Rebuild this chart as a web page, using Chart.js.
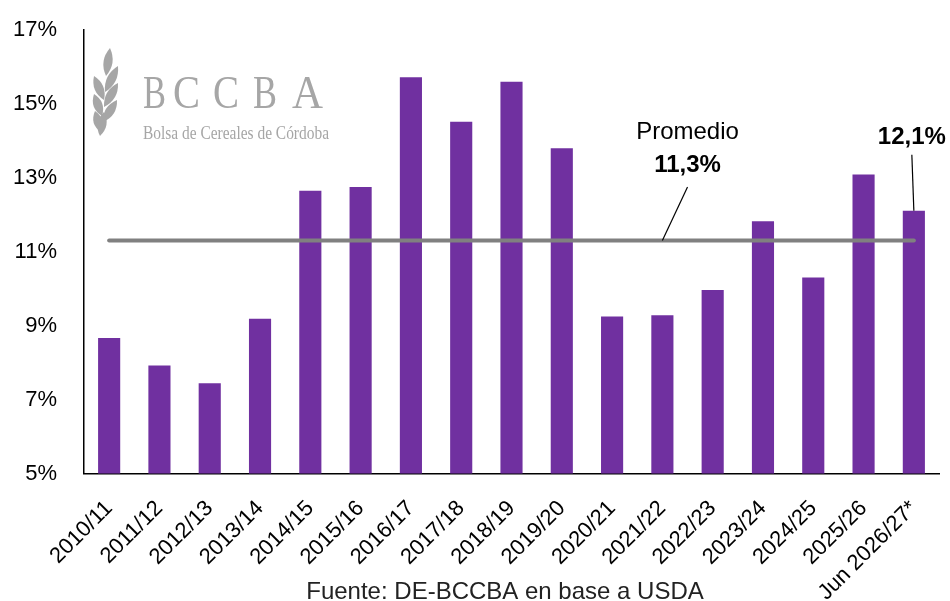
<!DOCTYPE html>
<html>
<head>
<meta charset="utf-8">
<script src="https://cdn.jsdelivr.net/npm/chart.js@4"></script>
<style>
    body { margin: 0; background: #fff; }
    #wrap { width: 950px; height: 601px; }
</style>
</head>
<body>
<div id="wrap"><canvas id="stockChart" width="950" height="601"></canvas></div>
<script>
// Campaigns and stock/use ratio (%)
const campaigns = ['2010/11', '2011/12', '2012/13', '2013/14', '2014/15', '2015/16', '2016/17', '2017/18',
    '2018/19', '2019/20', '2020/21', '2021/22', '2022/23', '2023/24', '2024/25', '2025/26', 'Jun 2026/27*'];
const ratios = [8.66, 7.92, 7.44, 9.18, 12.64, 12.74, 15.71, 14.51,
    15.59, 13.79, 9.24, 9.28, 9.96, 11.82, 10.30, 13.08, 12.1];
const promedio = 11.3;
const yTicks = [5, 7, 9, 11, 13, 15, 17];

const FONT = "'Liberation Sans', Arial, sans-serif";
const PURPLE = '#7030a0';
const GREY = '#808080';

function formatPct(value) {
    return value.toFixed(1).replace('.', ',') + '%';
}

// pointed leaf from base to tip
function leaf(ctx, bx, by, tx, ty, w) {
    const mx = (bx + tx) / 2, my = (by + ty) / 2;
    const len = Math.hypot(tx - bx, ty - by);
    const nx = -(ty - by) / len * w, ny = (tx - bx) / len * w;
    ctx.beginPath();
    ctx.moveTo(bx, by);
    ctx.quadraticCurveTo(mx + nx * 2, my + ny * 2, tx, ty);
    ctx.quadraticCurveTo(mx - nx * 2, my - ny * 2, bx, by);
    ctx.fill();
}

// BCCBA watermark, drawn behind the bars
const logoPlugin = {
    id: 'logo',
    beforeDatasetsDraw(chart) {
        const ctx = chart.ctx;
        ctx.save();
        ctx.fillStyle = '#a6a6a6';

        // wheat ear
        const leaves = [
            [106, 76, 110, 48],
            [105, 92, 118, 66],
            [104, 107, 118, 83],
            [103, 122, 117, 100],
            [104, 100, 94, 76],
            [102, 116, 94, 94],
            [101, 132, 95, 111],
            [104, 112, 100, 136]
        ];
        leaves.forEach(l => leaf(ctx, l[0], l[1], l[2], l[3], 4.5));

        ctx.textBaseline = 'alphabetic';
        ctx.textAlign = 'left';
        ctx.font = "47px 'Liberation Serif', 'DejaVu Serif', serif";
        const letters = ['B', 'C', 'C', 'B', 'A'];
        const letterX = [143, 173, 213, 253, 292];
        const letterW = [23, 27, 26, 24, 31];
        letters.forEach((ch, i) => ctx.fillText(ch, letterX[i], 108, letterW[i]));

        ctx.font = "18px 'Liberation Serif', 'DejaVu Serif', serif";
        ctx.fillText('Bolsa de Cereales de Córdoba', 143, 139, 186);
        ctx.restore();
    }
};

// Promedio / last value call-outs and source note
const notesPlugin = {
    id: 'notes',
    afterDatasetsDraw(chart) {
        const ctx = chart.ctx;
        const x = chart.scales.x;
        const y = chart.scales.y;
        ctx.save();
        ctx.fillStyle = '#000';
        ctx.strokeStyle = '#000';
        ctx.lineWidth = 1.2;
        ctx.textAlign = 'center';
        ctx.textBaseline = 'alphabetic';

        // promedio
        const avgY = y.getPixelForValue(promedio);
        const px = x.getPixelForValue(11.5);
        ctx.font = '24px ' + FONT;
        ctx.fillText('Promedio', px, 139);
        ctx.font = 'bold 24px ' + FONT;
        ctx.fillText(formatPct(promedio), px, 172);
        ctx.beginPath();
        ctx.moveTo(px, 187);
        ctx.lineTo(x.getPixelForValue(11), avgY);
        ctx.stroke();

        // last campaign
        const last = ratios.length - 1;
        const lx = x.getPixelForValue(last);
        const ly = y.getPixelForValue(ratios[last]);
        ctx.fillText(formatPct(ratios[last]), lx - 2, ly - 67);
        ctx.beginPath();
        ctx.moveTo(lx - 2, ly - 56);
        ctx.lineTo(lx, ly);
        ctx.stroke();

        // source
        ctx.font = '24px ' + FONT;
        ctx.fillStyle = '#222';
        ctx.fillText('Fuente: DE-BCCBA en base a USDA', 505, 599);
        ctx.restore();
    }
};

new Chart(document.getElementById('stockChart'), {
    type: 'bar',
    data: {
        labels: campaigns,
        datasets: [
            {
                type: 'line',
                label: 'Promedio',
                data: campaigns.map(() => promedio),
                borderColor: GREY,
                borderWidth: 4,
                borderCapStyle: 'round',
                pointRadius: 0,
                fill: false,
                order: 0
            },
            {
                label: 'Stock/consumo',
                data: ratios,
                backgroundColor: PURPLE,
                borderWidth: 0,
                barPercentage: 0.44,
                categoryPercentage: 1,
                order: 1
            }
        ]
    },
    options: {
        responsive: false,
        animation: false,
        devicePixelRatio: 1,
        layout: {
            padding: { top: 29.5, right: 11, left: 0, bottom: 0 }
        },
        plugins: {
            legend: { display: false },
            tooltip: { enabled: false }
        },
        scales: {
            x: {
                grid: { display: false },
                border: { display: true, color: '#000', width: 1.5 },
                ticks: {
                    color: '#000',
                    font: { family: FONT, size: 22 },
                    maxRotation: 45,
                    minRotation: 45,
                    padding: 14,
                    autoSkip: false
                },
                afterFit: function(scale) {
                    scale.height = 127.5;
                }
            },
            y: {
                min: 5,
                max: 17,
                grid: { display: false },
                border: { display: true, color: '#000', width: 1.5 },
                afterBuildTicks: function(scale) {
                    scale.ticks = yTicks.map(v => ({ value: v }));
                },
                ticks: {
                    color: '#000',
                    font: { family: FONT, size: 22 },
                    padding: 19,
                    callback: function(value) {
                        return value + '%';
                    }
                },
                afterFit: function(scale) {
                    // keep the tick padding from pushing the plot down
                    scale.width = 84;
                    scale.paddingTop = 0;
                    scale.paddingBottom = 0;
                }
            }
        }
    },
    plugins: [logoPlugin, notesPlugin]
});
</script>
</body>
</html>
